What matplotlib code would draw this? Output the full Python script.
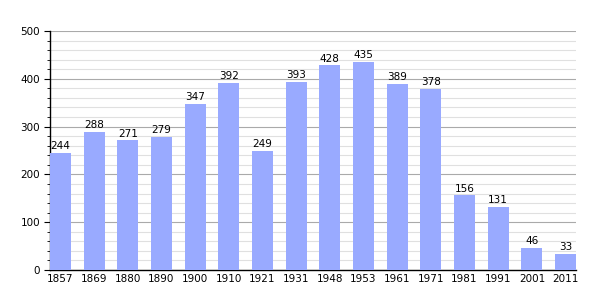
import matplotlib.pyplot as plt
import numpy as np

years = ['1857', '1869', '1880', '1890', '1900', '1910', '1921', '1931',
         '1948', '1953', '1961', '1971', '1981', '1991', '2001', '2011']
population = [244, 288, 271, 279, 347, 392, 249, 393,
              428, 435, 389, 378, 156, 131, 46, 33]

fig = plt.figure(figsize=(6.05, 3.0), dpi=100)
ax = fig.add_axes([50 / 605, 30 / 300, 526 / 605, 239 / 300])

x = np.arange(len(years))
w = 0.62
ax.bar(x, population, width=w, color='#99aaff', zorder=3)
for xi, v in zip(x, population):
    ax.text(xi, v + 4, str(v), ha='center', va='bottom', fontsize=7.5, zorder=4)

ax.set_xlim(-w / 2, len(years) - 1 + w / 2)
ax.set_ylim(0, 500)
ax.set_yticks(range(0, 501, 100))
ax.set_yticks(range(0, 501, 20), minor=True)
ax.set_xticks(x)
ax.set_xticklabels(years)
ax.tick_params(axis='both', labelsize=7.5)
ax.tick_params(axis='x', length=0, pad=3)
ax.tick_params(axis='y', which='major', length=4, width=0.8, pad=3)
ax.tick_params(axis='y', which='minor', length=2, width=0.6)

ax.grid(axis='y', which='major', color='#aaaaaa', linewidth=0.8, zorder=0)
ax.grid(axis='y', which='minor', color='#e0e0e0', linewidth=0.8, zorder=0)

for s in ['top', 'right']:
    ax.spines[s].set_visible(False)
ax.spines['left'].set_linewidth(1)
ax.spines['bottom'].set_linewidth(1)

fig.savefig('out.png', dpi=100)
